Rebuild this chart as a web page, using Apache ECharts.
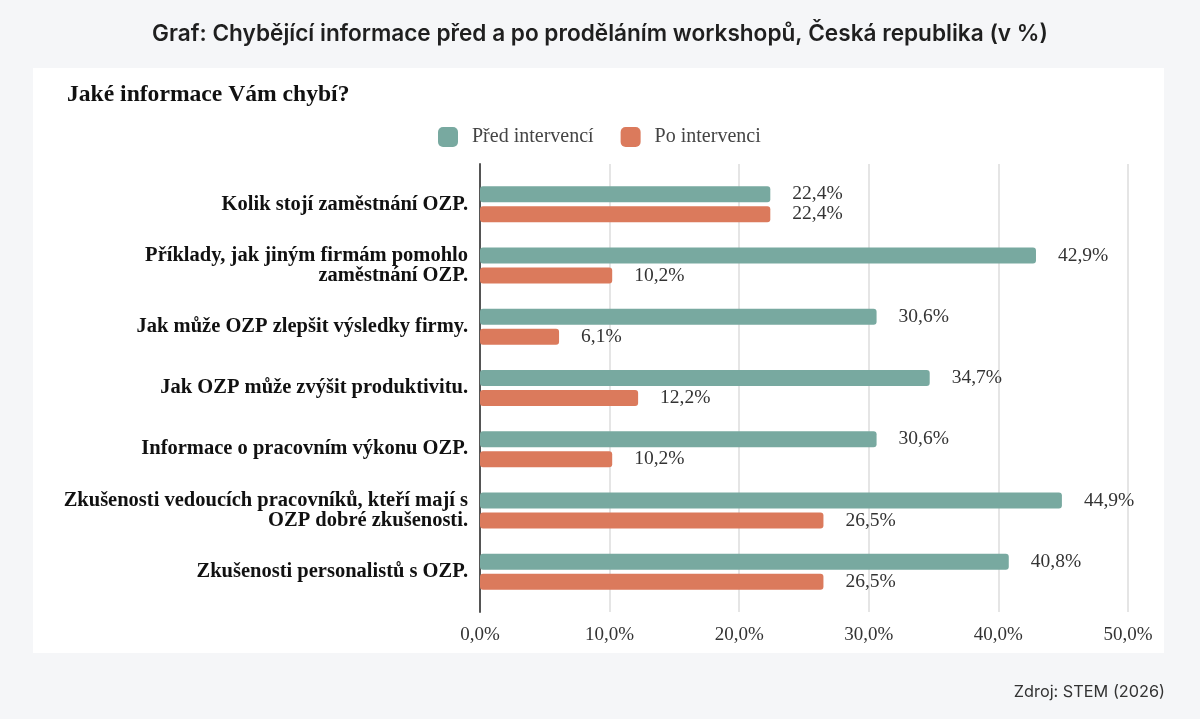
<!DOCTYPE html>
<html lang="cs">
<head>
<meta charset="utf-8">
<title>Chybějící informace před a po workshopech</title>
<script src="https://cdn.jsdelivr.net/npm/echarts@6/dist/echarts.min.js"></script>
<style>
  html, body { margin: 0; padding: 0; background: #f5f6f8; }
  #chart { width: 1200px; height: 719px; }
</style>
</head>
<body>
<div id="chart"></div>
<script>
// kategorie (shora dolů)
var categories = [
  'Kolik stojí zaměstnání OZP.',
  'Příklady, jak jiným firmám pomohlo\nzaměstnání OZP.',
  'Jak může OZP zlepšit výsledky firmy.',
  'Jak OZP může zvýšit produktivitu.',
  'Informace o pracovním výkonu OZP.',
  'Zkušenosti vedoucích pracovníků, kteří mají s\nOZP dobré zkušenosti.',
  'Zkušenosti personalistů s OZP.'
];
var seriesNames = ['Před intervencí', 'Po intervenci'];
var beforeValues = [22.4, 42.9, 30.6, 34.7, 30.6, 44.9, 40.8];
var afterValues = [22.4, 10.2, 6.1, 12.2, 10.2, 26.5, 26.5];
var axisTicks = [0, 10, 20, 30, 40, 50];

var SERIF = '"Liberation Serif", "Times New Roman", serif';
var SANS = 'Inter, Roboto, "Noto Sans", sans-serif';

function pct(v) {
  return v.toFixed(1).replace('.', ',') + '%';
}

var chart = echarts.init(document.getElementById('chart'));

var option = {
  backgroundColor: '#f5f6f8',
  animation: false,
  graphic: [
    {
      type: 'rect',
      z: -10,
      shape: { x: 33, y: 68, width: 1131, height: 585 },
      style: { fill: '#ffffff' }
    }
  ],
  title: [
    {
      text: 'Graf: Chybějící informace před a po proděláním workshopů, Česká republika (v %)',
      left: 'center',
      top: 18,
      textStyle: { fontFamily: SANS, fontSize: 22.6, fontWeight: 600, color: '#1f1f1f' }
    },
    {
      text: 'Jaké informace Vám chybí?',
      left: 62,
      top: 78,
      textStyle: { fontFamily: SERIF, fontSize: 23.6, fontWeight: 'bold', color: '#111' }
    },
    {
      text: 'Zdroj: STEM (2026)',
      right: 30,
      top: 679,
      textStyle: { fontFamily: SANS, fontSize: 16.3, fontWeight: 'normal', color: '#333' }
    }
  ],
  legend: {
    data: seriesNames,
    left: 433,
    top: 122,
    itemWidth: 20,
    itemHeight: 20,
    itemGap: 27,
    icon: 'roundRect',
    textStyle: { fontFamily: SERIF, fontSize: 20, color: '#444', padding: [0, 0, 0, 9] }
  },
  grid: [
    // mřížka a osa (o něco vyšší než pruhy)
    { left: 480, right: 72, top: 164, height: 448 },
    // pruhy
    { left: 480, right: 72, top: 173.6, height: 428.7 }
  ],
  xAxis: [
    {
      gridIndex: 0,
      type: 'value',
      min: axisTicks[0],
      max: axisTicks[axisTicks.length - 1],
      interval: 10,
      axisLine: { show: false },
      axisTick: { show: false },
      splitLine: { lineStyle: { color: '#dddddd', width: 1.5 } },
      axisLabel: {
        formatter: pct,
        margin: 14,
        fontFamily: SERIF,
        fontSize: 19,
        color: '#333'
      }
    },
    {
      gridIndex: 1,
      type: 'value',
      min: axisTicks[0],
      max: axisTicks[axisTicks.length - 1],
      show: false
    }
  ],
  yAxis: [
    {
      gridIndex: 0,
      type: 'value',
      min: 0,
      max: 1,
      axisLine: { show: true, lineStyle: { color: '#555', width: 2 } },
      axisTick: { show: false },
      axisLabel: { show: false },
      splitLine: { show: false }
    },
    {
      gridIndex: 1,
      type: 'category',
      data: categories,
      inverse: true,
      axisLine: { show: false },
      axisTick: { show: false },
      axisLabel: {
        margin: 12,
        fontFamily: SERIF,
        fontSize: 20.5,
        fontWeight: 'bold',
        color: '#111',
        lineHeight: 20,
        align: 'right'
      }
    }
  ],
  series: [
    {
      name: seriesNames[0],
      type: 'bar',
      xAxisIndex: 1,
      yAxisIndex: 1,
      data: beforeValues,
      barWidth: 16,
      barGap: '25%',
      itemStyle: { color: '#78a9a0', borderRadius: 3 },
      label: {
        show: true,
        position: 'right',
        distance: 22,
        formatter: function (p) { return pct(p.value); },
        fontFamily: SERIF,
        fontSize: 19.5,
        color: '#333'
      }
    },
    {
      name: seriesNames[1],
      type: 'bar',
      xAxisIndex: 1,
      yAxisIndex: 1,
      data: afterValues,
      barWidth: 16,
      barGap: '25%',
      itemStyle: { color: '#db7a5c', borderRadius: 3 },
      label: {
        show: true,
        position: 'right',
        distance: 22,
        formatter: function (p) { return pct(p.value); },
        fontFamily: SERIF,
        fontSize: 19.5,
        color: '#333'
      }
    }
  ]
};

chart.setOption(option);
</script>
</body>
</html>
